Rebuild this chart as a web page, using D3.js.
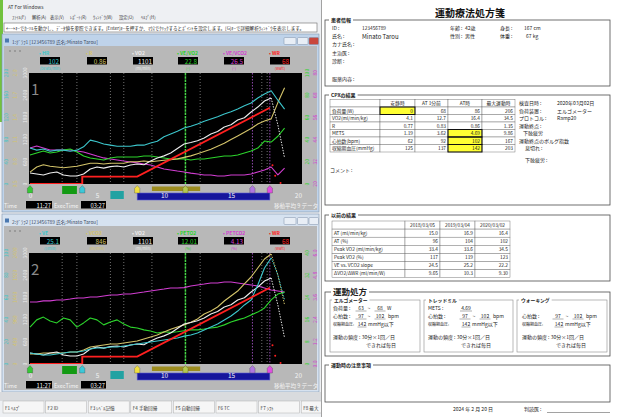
<!DOCTYPE html>
<html>
<head>
<meta charset="utf-8">
<script src="https://cdn.jsdelivr.net/npm/d3@7"></script>
<style>
  html,body{margin:0;padding:0;background:#ffffff;}
  svg{display:block;}
  text{font-family:"Noto Sans CJK JP","Noto Sans",sans-serif;}
</style>
</head>
<body>
<svg id="sheet" width="620" height="417"></svg>
<script>
// ---- exercise test data (minutes from start of recording) ----
const minutes = [0,0.5,1,1.5,2,2.5,3,3.5,4,4.5,5,5.5,6,6.5,7,7.5,8,8.5,9,9.5,10,10.5,11,11.5,12,12.5,13,13.5,14,14.5,15,15.5,16,16.5,17,17.5,18,18.5,19];

// graph 1
const heartRate = [65,61,63,59,61,61,59,61,67, 79,76,72,70,68,68,68,70,70, 74,77,85,90,95,101,104,108,113, 117,121,126,130,135,141,146,155,162, 168,151,135];
const oxygenUptake = [297,270,243,297,324,243,216,216,270, 405,460,430,470,487,460,514,541,520, 622,703,760,838,960,1080,1120,1170,1243, 1351,1420,1541,1600,1730,1790,1946,2080,2243, 2324,1595,703];
const gasExchangeRatio = [0.66,0.73,0.76,0.74,0.73,0.72,0.73,0.74,0.76, 0.78,0.78,0.77,0.78,0.78,0.78,0.80,0.80,0.81, 0.80,0.81,0.82,0.83,0.84,0.86,0.88,0.91,0.94, 0.97,1.01,1.05,1.10,1.15,1.20,1.25,1.31,1.35, 1.38,1.60,1.80];
const veVo2 = [26.1,27.9,29.7,27.9,28.8,30.6,31.5,28.8,25.2, 23.4,22.5,21.6,23.4,24.3,24.3,24.3,24.3,25.2, 25.2,24.3,23.4,22.5,22.5,22.8,21.6,22.5,22.5, 23.4,24.3,25.2,25.2,26.1,27.9,29.7,32.4,38.7, 37.8,43.0,50.4];
const veVco2 = [39.5,40.5,39.5,38.4,38.4,38.4,38.4,37.8,37.3, 36.2,35.1,34.1,33.5,33.0,32.4,31.9,31.4,30.8, 30.3,29.2,28.1,27.6,27.0,26.5,25.9,25.4,24.9, 24.9,24.3,24.3,24.9,24.9,24.9,25.4,26.5,27.6, 29.2,24.9,28.6];

// graph 2
const ventilation = [9.9,9.0,8.1,8.1,9.0,9.9,10.8,10.8,11.7, 13.5,14.4,14.4,15.3,15.3,16.2,17.1,18.0,18.9, 19.8,20.7,21.6,22.5,23.4,25.1,26.1,27.9,30.6, 33.3,36.0,39.6,43.2,47.7,53.2,57.7,71.2,86.5, 95.5,80.2,57.7];
const co2Output = [216,216,238,238,238,238,259,259,303, 368,389,411,432,432,454,476,497,541, 584,627,692,750,800,846,905,975,1081, 1146,1232,1362,1470,1578,1730,1881,2076,2270, 2378,1924,1276];
const endTidalO2 = [13.3,15.9,16.9,15.5,14.8,16.6,15.9,13.3,14.8, 16.6,15.9,14.1,15.1,15.9,14.4,13.3,13.0,12.3, 11.9,11.2,11.6,11.4,11.6,12.0,12.3,12.3,12.6, 13.0,13.3,14.1,15.1,15.9,16.6,17.7,18.7,20.2, 23.1,25.2,25.9];
const endTidalCo2 = [3.35,3.35,3.41,3.41,3.46,3.46,3.51,3.57,3.57, 3.62,3.62,3.68,3.73,3.73,3.78,3.78,3.84,3.89, 3.95,4.00,4.05,4.11,4.11,4.13,4.22,4.27,4.32, 4.38,4.38,4.43,4.43,4.38,4.32,4.27,4.22,4.11, 4.00,3.95,3.89];

// work rate protocol (rest, warm-up, ramp) and recovery samples
const wrMinutes = [0, 3.9, 3.9, 8.0, 17.9];
const wrWatts = [0, 0, 20, 20, 206];
const wrRecoveryMinutes = [18.1, 18.3, 18.7];
const wrRecoveryWatts = [51, 22, 3];

// events
const guideMinutes = [2.4, 3.5, 6.0, 7.0, 9.1, 12.7, 17.3, 17.7];
const stageMinutes = [16.6, 17.9];
const atMinute = 11.6;
const restWindow = [2.4, 3.5];
const warmupWindow = [6.0, 7.0];
const atWindow = [9.1, 12.7];
const rampWindow = [8.0, 17.9];
const eventMinutes = [0, 3.9, 8.0, 11.6, 16.6, 17.9];
const eventColors = ['#35c835', '#3cc8d8', '#f0e040', '#b4c850', '#b078e0', '#e050e0'];

// tick labels
const timeTicks = [0, 5, 10, 15, 20];
const hrTicks = [0, 40, 80, 120, 160, 200];
const rTicks = [0.5, 0.8, 1.1, 1.4, 1.7, 2.0];
const vo2Ticks = [0, 600, 1200, 1800, 2400, 3000];
const veVo2Ticks = [0, 20, 40, 60, 80, 100];
const veVco2Ticks = [20, 32, 44, 56, 68, 80];
const veTicks = [0, 20, 40, 60, 80, 100];
const vco2Ticks = [0, 480, 960, 1440, 1920, 2400];
const peto2Ticks = [0, 8, 16, 24, 32, 40];
const petco2Ticks = [0, 1.2, 2.4, 3.6, 4.8, 6.0];

// ---- report tables ----
const cpxColumns = ['', '安静時', 'AT 1分前', 'AT時', '最大運動時'];
const cpxItems = ['負荷量(W)', 'VO2(ml/min/kg)', 'R', 'METS', '心拍数(bpm)', '収縮期血圧(mmHg)'];
const cpxRest = ['0', '4.1', '0.77', '1.19', '62', '125'];
const cpxAtMinus1 = ['68', '12.7', '0.83', '3.62', '92', '137'];
const cpxAt = ['86', '16.4', '0.86', '4.69', '102', '142'];
const cpxPeak = ['206', '34.5', '1.35', '9.86', '167', '203'];
const cpxMarked = ['1,1', '4,3', '5,3', '6,3'];

const prevColumns = ['', '2018/03/05', '2019/03/04', '2020/03/02'];
const prevItems = ['AT (ml/min/kg)', 'AT (%)', 'Peak VO2 (ml/min/kg)', 'Peak VO2 (%)', 'VE vs. VCO2 slope', 'ΔVO2/ΔWR (ml/min/W)'];
const prev2018 = ['15.0', '96', '33.4', '117', '24.5', '9.65'];
const prev2019 = ['16.9', '104', '33.6', '119', '25.2', '10.3'];
const prev2020 = ['16.4', '102', '34.5', '123', '22.2', '9.30'];

const C = {cyan:'#3cc6cc', yellow:'#d4c46a', white:'#ededed', green:'#2cd42c', magenta:'#d23ed2', red:'#ff2020'};

const svg = d3.select('#sheet');
const defs = svg.append('defs');
defs.append('clipPath').attr('id', 'leftClip').append('rect').attr('width', 321).attr('height', 417);
defs.append('clipPath').attr('id', 'plotClip').append('rect').attr('x', 29).attr('y', 73).attr('width', 273).attr('height', 111);

const left = svg.append('g').attr('clip-path', 'url(#leftClip)');
left.append('rect').attr('width', 321).attr('height', 417).attr('fill', '#eef0f3');
left.append('rect').attr('x', 0).attr('y', 0).attr('width', 3).attr('height', 122).attr('fill', '#72c23e');

// application title, menu and hint line
left.append('text').attr('x', 8).attr('y', 9).attr('font-size', 4.8).attr('fill', '#333').text('AT For Windows');
const menuItems = ['ﾌｧｲﾙ(F)', '解析(A)', '表示(V)', 'ﾚﾎﾟｰﾄ(R)', 'ｳｨﾝﾄﾞｳ(W)', '設定(O)', 'ﾍﾙﾌﾟ(H)'];
const menuX = [12, 32, 50, 70, 93, 119, 141];
left.selectAll('.menu').data(menuItems).join('text')
  .attr('x', (d, i) => menuX[i]).attr('y', 19).attr('font-size', 4.3).attr('fill', '#333').text(d => d);
left.append('rect').attr('x', 4).attr('y', 23).attr('width', 313).attr('height', 9).attr('fill', '#fff').attr('stroke', '#6a6a6a').attr('stroke-width', 0.6);
left.append('text').attr('x', 6).attr('y', 30).attr('font-size', 4.4).attr('fill', '#222')
  .attr('textLength', 298).attr('lengthAdjust', 'spacingAndGlyphs')
  .text('←→ｷｰでｶｰｿﾙを動かし、ﾃﾞｰﾀ値を参照できます。[Enter]ｷｰを押すか、ﾏｳｽでｸﾘｯｸするとﾎﾟｲﾝﾄを設定します。[G]ｷｰで詳細解析ｳｨﾝﾄﾞｳを表示します。');

const x = d3.scaleLinear().domain([0, 20.3]).range([30, 302]);

const panels = [
  {
    dy: 0, num: '1', active: true, title: '1:ｸﾞﾗﾌ1 [123456789 氏名:Minato Tarou]',
    series: [
      {key: 'vevco2', values: veVco2, domain: [20, 80], color: C.magenta},
      {key: 'vevo2', values: veVo2, domain: [0, 100], color: C.green},
      {key: 'r', values: gasExchangeRatio, domain: [0.5, 2.0], color: C.yellow},
      {key: 'vo2', values: oxygenUptake, domain: [0, 3000], color: C.white, dotTail: true},
      {key: 'hr', values: heartRate, domain: [0, 200], color: C.cyan}
    ],
    leftAxes: [['hr', hrTicks, 6, d3.format('d')], ['r', rTicks, 15.5, d3.format('.1f')], ['vo2', vo2Ticks, 25, d3.format('d')]],
    rightAxes: [['vevo2', veVo2Ticks, 307, d3.format('d')], ['vevco2', veVco2Ticks, 315.5, d3.format('d')]],
    readouts: [
      {label: 'HR', color: C.cyan, value: '102', unit: '(beats/min)'},
      {label: 'R', color: C.yellow, value: '0.86', unit: ''},
      {label: 'VO2', color: C.white, value: '1101', unit: '(ml/min)'},
      {label: 'VE/VO2', color: C.green, value: '22.8', unit: '(-)'},
      {label: 'VE/VCO2', color: C.magenta, value: '26.5', unit: '(-)'},
      {label: 'WR', color: C.red, value: '68', unit: '(watt)'}
    ]
  },
  {
    dy: 180, num: '2', active: false, title: '2:ｸﾞﾗﾌ2 [123456789 氏名:Minato Tarou]',
    series: [
      {key: 'petco2', values: endTidalCo2, domain: [0, 6], color: C.magenta},
      {key: 'peto2', values: endTidalO2, domain: [0, 40], color: C.green},
      {key: 'vco2', values: co2Output, domain: [0, 2400], color: C.yellow, dotTail: true},
      {key: 'vo2', values: oxygenUptake, domain: [0, 3000], color: C.white, dotTail: true},
      {key: 've', values: ventilation, domain: [0, 100], color: C.cyan, dotTail: true}
    ],
    leftAxes: [['ve', veTicks, 6, d3.format('d')], ['vco2', vco2Ticks, 15.5, d3.format('d')], ['vo2', vo2Ticks, 25, d3.format('d')]],
    rightAxes: [['peto2', peto2Ticks, 307, d3.format('d')], ['petco2', petco2Ticks, 315.5, d3.format('.1f')]],
    readouts: [
      {label: 'VE', color: C.cyan, value: '25.1', unit: '(l/min)'},
      {label: 'VCO2', color: C.yellow, value: '846', unit: '(ml/min)'},
      {label: 'VO2', color: C.white, value: '1101', unit: '(ml/min)'},
      {label: 'PETO2', color: C.green, value: '12.01', unit: '(%)'},
      {label: 'PETCO2', color: C.magenta, value: '4.13', unit: '(%)'},
      {label: 'WR', color: C.red, value: '68', unit: '(watt)'}
    ]
  }
];

function drawPanel(p) {
  const g = left.append('g').attr('transform', `translate(0,${p.dy})`);
  // window frame and caption
  g.append('rect').attr('x', 2).attr('y', 34).attr('width', 317).attr('height', 178)
    .attr('fill', p.active ? '#bfd3ea' : '#d6e2f0').attr('stroke', '#8196b0').attr('stroke-width', 0.6);
  g.append('rect').attr('x', 5).attr('y', 38.5).attr('width', 4).attr('height', 4).attr('fill', '#4a78b0');
  g.append('text').attr('x', 12).attr('y', 43.5).attr('font-size', 4.8).attr('fill', '#3b4b66').text(p.title);
  const caption = [[284, 12, '#e8eef6'], [297.5, 10.5, '#e8eef6'], [309, 9.5, p.active ? '#c9473d' : '#e8eef6']];
  g.selectAll('.cap').data(caption).join('rect')
    .attr('x', d => d[0]).attr('y', 37.5).attr('width', d => d[1]).attr('height', 7)
    .attr('rx', 1).attr('fill', d => d[2]).attr('stroke', '#7d8ea6').attr('stroke-width', 0.5);

  // window body
  g.append('rect').attr('x', 4).attr('y', 46).attr('width', 313).attr('height', 164).attr('fill', '#b8b8b8');
  g.selectAll('.dot').data([10, 15, 20]).join('circle')
    .attr('cx', d => d).attr('cy', 51).attr('r', 0.7).attr('fill', '#666');

  // live readouts
  const boxX = [40, 87, 133, 178, 224, 270];
  const ro = g.selectAll('.readout').data(p.readouts).join('g').attr('transform', (d, i) => `translate(${boxX[i]},0)`);
  ro.append('text').attr('x', -1).attr('y', 54.5).attr('font-size', 5).attr('font-weight', 700).attr('fill', d => d.color).text(d => '• ' + d.label);
  ro.append('rect').attr('x', 0).attr('y', 57).attr('width', 20).attr('height', 7.5).attr('fill', '#000');
  ro.append('text').attr('x', 19).attr('y', 63.5).attr('text-anchor', 'end').attr('font-size', 6.3)
    .attr('font-family', '"DejaVu Sans Mono",monospace').attr('fill', d => d.color).text(d => d.value);
  ro.append('text').attr('x', 10).attr('y', 70).attr('text-anchor', 'middle').attr('font-size', 3.8).attr('fill', d => d.color).text(d => d.unit);

  // plot area
  g.append('rect').attr('x', 29).attr('y', 73).attr('width', 273).attr('height', 111).attr('fill', '#000');
  g.append('text').attr('x', 31).attr('y', 95).attr('font-size', 15).attr('fill', '#8a8a8a').text(p.num);
  const plot = g.append('g').attr('clip-path', 'url(#plotClip)');

  plot.selectAll('.guide').data(guideMinutes).join('line')
    .attr('x1', d => x(d)).attr('x2', d => x(d)).attr('y1', 73).attr('y2', 184)
    .attr('stroke', '#a0a0a0').attr('stroke-width', 0.7).attr('stroke-dasharray', '1,2');
  plot.selectAll('.stage').data(stageMinutes).join('line')
    .attr('x1', d => x(d)).attr('x2', d => x(d)).attr('y1', 73).attr('y2', 184)
    .attr('stroke', '#b45ad8').attr('stroke-width', 0.8).attr('stroke-dasharray', '1.5,1.5');
  plot.append('line').attr('x1', x(atMinute)).attr('x2', x(atMinute)).attr('y1', 73).attr('y2', 184)
    .attr('stroke', '#46d646').attr('stroke-width', 1.5).attr('stroke-dasharray', '2.5,0.8');

  const scales = {};
  p.series.forEach(s => {
    const y = d3.scaleLinear().domain(s.domain).range([184, 73]);
    scales[s.key] = y;
    const pts = minutes.map((t, i) => [t, s.values[i]]);
    const line = d3.line().x(d => x(d[0])).y(d => y(d[1]));
    const solid = s.dotTail ? pts.filter(d => d[0] <= 18) : pts;
    plot.append('path').attr('d', line(solid)).attr('fill', 'none')
      .attr('stroke', s.color).attr('stroke-width', 1.1).attr('stroke-linejoin', 'round');
    if (s.dotTail) {
      plot.append('path').attr('d', line(pts.filter(d => d[0] >= 18))).attr('fill', 'none')
        .attr('stroke', s.color).attr('stroke-width', 1).attr('stroke-dasharray', '1.4,1.4');
    }
  });

  // work rate
  const wr = d3.scaleLinear().domain([0, 300]).range([184, 73]);
  const wrLine = d3.line().x(d => x(d[0])).y(d => wr(d[1]));
  plot.append('path').attr('d', wrLine(wrMinutes.map((t, i) => [t, wrWatts[i]])))
    .attr('fill', 'none').attr('stroke', C.red).attr('stroke-width', 1.9);
  plot.selectAll('.rec').data(wrRecoveryMinutes).join('circle')
    .attr('cx', d => x(d)).attr('cy', (d, i) => wr(wrRecoveryWatts[i])).attr('r', 1).attr('fill', C.red);

  // scale labels beside the plot
  const axisColumn = (key, ticks, cx, fmt) => {
    const y = scales[key];
    const color = p.series.find(s => s.key === key).color;
    g.selectAll(null).data(ticks).join('text')
      .attr('transform', d => `translate(${cx},${y(d)}) rotate(-90)`)
      .attr('text-anchor', 'middle').attr('dy', '0.35em').attr('font-size', 5)
      .attr('fill', color).text(d => fmt(d));
  };
  p.leftAxes.forEach(a => axisColumn(...a));
  p.rightAxes.forEach(a => axisColumn(...a));

  // phase bars and event markers
  const bar = (w, y, h, fill, stroke) => g.append('rect')
    .attr('x', x(w[0])).attr('y', y).attr('width', x(w[1]) - x(w[0])).attr('height', h)
    .attr('fill', fill).attr('stroke', stroke || 'none').attr('stroke-width', 0.6);
  bar(restWindow, 186, 8, '#139a13');
  bar(warmupWindow, 191, 8, '#22a2a2');
  bar(atWindow, 186.5, 4.5, '#9c8c1e');
  bar(rampWindow, 193, 7, '#16169c', '#5a5ad2');
  g.selectAll('.evt').data(eventMinutes).join('path')
    .attr('transform', d => `translate(${x(d)},189.5)`)
    .attr('d', 'M-2.6,3.5 L-2.6,-1.2 L0,-4 L2.6,-1.2 L2.6,3.5 Z')
    .attr('fill', (d, i) => eventColors[i]).attr('stroke', '#333').attr('stroke-width', 0.3);

  const ax = g.append('g').attr('transform', 'translate(0,193.5)')
    .call(d3.axisBottom(x).tickValues(timeTicks).tickSize(0).tickPadding(0));
  ax.select('.domain').remove();
  ax.selectAll('text').attr('font-size', 6.5).attr('font-family', '"DejaVu Sans",sans-serif').attr('fill', '#f2f2f2');

  // time readouts
  g.append('text').attr('x', 4).attr('y', 207.5).attr('font-size', 5.5).attr('fill', '#f4f4f4').text('Time');
  g.append('rect').attr('x', 26).attr('y', 201).attr('width', 26).attr('height', 7.5).attr('fill', '#000');
  g.append('text').attr('x', 51).attr('y', 207.5).attr('text-anchor', 'end').attr('font-size', 5.8)
    .attr('font-family', '"DejaVu Sans Mono",monospace').attr('fill', '#f4f4f4').text('11:27');
  g.append('text').attr('x', 54).attr('y', 207.5).attr('font-size', 5.5).attr('fill', '#f4f4f4').text('ExecTime');
  g.append('rect').attr('x', 81).attr('y', 201).attr('width', 25).attr('height', 7.5).attr('fill', '#000');
  g.append('text').attr('x', 105).attr('y', 207.5).attr('text-anchor', 'end').attr('font-size', 5.8)
    .attr('font-family', '"DejaVu Sans Mono",monospace').attr('fill', '#f4f4f4').text('03:27');
  g.append('text').attr('x', 318).attr('y', 207.5).attr('text-anchor', 'end').attr('font-size', 5.5).attr('fill', '#f4f4f4').text('移動平均 9 データ');
}
panels.forEach(drawPanel);

// function key bar
left.append('rect').attr('x', 0).attr('y', 392).attr('width', 321).attr('height', 9).attr('fill', '#d9dbde');
const fKeys = ['F1 ﾍﾙﾌﾟ', 'F2 ID', 'F3 ﾚﾍﾞﾙ記憶', 'F4 手動回帰', 'F5 自動回帰', 'F6 TC', 'F7 ｼﾌﾄ', 'F8 最大'];
const fk = left.selectAll('.fkey').data(fKeys).join('g').attr('transform', (d, i) => `translate(${3 + i * 42.6},401)`);
fk.append('rect').attr('width', 41).attr('height', 12).attr('fill', '#f6f6f6').attr('stroke', '#b0b0b0').attr('stroke-width', 0.5);
fk.append('text').attr('x', 2).attr('y', 8.5).attr('font-size', 4.6).attr('fill', '#333').text(d => d);

// ---- report sheet ----
const rep = svg.append('g');
const FS = 5;
rep.append('rect').attr('x', 321).attr('y', 0).attr('width', 299).attr('height', 417).attr('fill', '#fff');
rep.append('line').attr('x1', 321.5).attr('x2', 321.5).attr('y1', 0).attr('y2', 417).attr('stroke', '#8a8a8a').attr('stroke-width', 0.8);
rep.append('text').attr('x', 470).attr('y', 17).attr('text-anchor', 'middle').attr('font-size', 10)
  .attr('font-weight', 700).attr('fill', '#111').text('運動療法処方箋');

function txt(g, xx, yy, s, opt = {}) {
  return g.append('text').attr('x', xx).attr('y', yy).attr('font-size', opt.fs || FS)
    .attr('text-anchor', opt.anchor || 'start').attr('font-weight', opt.bold ? 700 : 400)
    .attr('font-family', opt.font || null).attr('fill', opt.fill || '#222').text(s);
}
function groupBox(g, bx, by, bw, bh, label, opt = {}) {
  g.append('rect').attr('x', bx).attr('y', by).attr('width', bw).attr('height', bh)
    .attr('fill', 'none').attr('stroke', opt.stroke || '#4d4d4d').attr('stroke-width', opt.sw || 0.8);
  const fs = opt.fs || 5;
  const t = txt(g, bx + (opt.pad || 6), by + fs * 0.36, label, {fs: fs, bold: true, fill: '#222'});
  const w = t.node().getComputedTextLength();
  g.insert('rect', () => t.node()).attr('x', bx + (opt.pad || 6) - 2).attr('y', by - fs * 0.6)
    .attr('width', w + 4).attr('height', fs * 1.2).attr('fill', '#fff');
}
function grid(g, edges, top, rowH, rows, marked) {
  const cells = rows.flatMap((r, i) => r.map((v, j) => ({i, j, v})));
  g.selectAll(null).data(cells).join('rect')
    .attr('x', d => edges[d.j]).attr('y', d => top + d.i * rowH)
    .attr('width', d => edges[d.j + 1] - edges[d.j]).attr('height', rowH)
    .attr('fill', d => marked.includes(d.i + ',' + d.j) ? '#ffff33' : '#fff')
    .attr('stroke', '#6a6a6a').attr('stroke-width', 0.45);
  g.selectAll(null).data(cells.filter(d => marked.includes(d.i + ',' + d.j))).join('rect')
    .attr('x', d => edges[d.j]).attr('y', d => top + d.i * rowH)
    .attr('width', d => edges[d.j + 1] - edges[d.j]).attr('height', rowH)
    .attr('fill', 'none').attr('stroke', '#111').attr('stroke-width', 1);
  g.selectAll(null).data(cells).join('text')
    .attr('x', d => d.i === 0 ? (edges[d.j] + edges[d.j + 1]) / 2 : (d.j === 0 ? edges[0] + 2 : edges[d.j + 1] - 2))
    .attr('y', d => top + d.i * rowH + rowH / 2 + 1.8)
    .attr('text-anchor', d => d.i === 0 ? 'middle' : (d.j === 0 ? 'start' : 'end'))
    .attr('font-size', 4.8).attr('fill', '#222').text(d => d.v);
}

// patient information
groupBox(rep, 325, 20, 285, 66, '患者情報');
txt(rep, 332, 30, 'ID :'); txt(rep, 362, 30, '123456789', {fs: 4.8});
txt(rep, 450, 30, '年齢 :'); txt(rep, 465, 30, '42歳');
txt(rep, 500, 30, '身長 :'); txt(rep, 524, 30, '167 cm');
txt(rep, 332, 38, '氏名 :'); txt(rep, 362, 38.5, 'Minato Tarou', {fs: 6, font: '"DejaVu Sans Mono",monospace'});
txt(rep, 450, 38, '性別 :'); txt(rep, 465, 38, '男性');
txt(rep, 500, 38, '体重 :'); txt(rep, 526, 38, '67 kg');
txt(rep, 332, 46, 'カナ氏名 :');
txt(rep, 332, 54.5, '主治医 :');
txt(rep, 332, 63, '診断 :');
txt(rep, 332, 81, '服薬内容 :');

// CPX results
groupBox(rep, 325, 95, 285, 110, 'CPXの結果');
const cpxRows = [cpxColumns].concat(cpxItems.map((d, i) => [d, cpxRest[i], cpxAtMinus1[i], cpxAt[i], cpxPeak[i]]));
grid(rep, [330, 380, 415, 448, 482, 515], 99.5, 7.5, cpxRows, cpxMarked);
const infoRows = [
  ['検査日時 :', '2020年03月02日', 519], ['負荷装置 :', 'エルゴメーター', 519], ['プロトコル :', 'Ramp20', 519],
  ['運動終点 :', '', 519], ['下肢疲労', '', 523], ['運動終点のボルグ指数', '', 519], ['息切れ :', '', 525]
];
infoRows.forEach((r, i) => {
  txt(rep, r[2], 105 + i * 7.5, r[0]);
  if (r[1]) txt(rep, 557, 105 + i * 7.5, r[1]);
});
txt(rep, 525, 162, '下肢疲労 :');
txt(rep, 330, 172, 'コメント :');

// previous results
groupBox(rep, 325, 215, 285, 66, '以前の結果');
const prevRows = [prevColumns].concat(prevItems.map((d, i) => [d, prev2018[i], prev2019[i], prev2020[i]]));
grid(rep, [332, 405, 440, 475, 510], 221, 8.1, prevRows, []);

// exercise prescription
groupBox(rep, 325, 292, 285, 64, '運動処方', {fs: 8.5, pad: 8});
groupBox(rep, 330, 300, 90, 52, 'エルゴメーター', {stroke: '#8a8a8a', sw: 0.6, fs: 4.8, pad: 4});
groupBox(rep, 424, 300, 89, 52, 'トレッドミル', {stroke: '#8a8a8a', sw: 0.6, fs: 4.8, pad: 4});
groupBox(rep, 517, 300, 90, 52, 'ウォーキング', {stroke: '#8a8a8a', sw: 0.6, fs: 4.8, pad: 4});

function uval(cx, yy, s, w) {
  txt(rep, cx, yy, s, {anchor: 'middle'});
  rep.append('line').attr('x1', cx - w / 2).attr('x2', cx + w / 2).attr('y1', yy + 1).attr('y2', yy + 1)
    .attr('stroke', '#333').attr('stroke-width', 0.4);
}
const rowY = [310, 318, 326, 339, 347];
// ergometer
txt(rep, 333, rowY[0], '負荷量 :'); uval(361, rowY[0], '63', 11); txt(rep, 369, rowY[0], '~', {anchor: 'middle'}); uval(380, rowY[0], '68', 11); txt(rep, 387, rowY[0], 'W');
txt(rep, 333, rowY[1], '心拍数 :'); uval(361, rowY[1], '97', 11); txt(rep, 369, rowY[1], '~', {anchor: 'middle'}); uval(380, rowY[1], '102', 11); txt(rep, 388, rowY[1], 'bpm');
txt(rep, 333, rowY[2], '収縮期血圧:', {fs: 4}); uval(362, rowY[2], '142', 9); txt(rep, 368, rowY[2], 'mmHg以下');
txt(rep, 333, rowY[3], '運動の頻度 : 30分×1回／日'); txt(rep, 366, rowY[4], 'できれば毎日');
// treadmill
txt(rep, 428, rowY[0], 'METS :'); uval(466, rowY[0], '4.69', 12);
txt(rep, 428, rowY[1], '心拍数 :'); uval(465, rowY[1], '97', 11); txt(rep, 474, rowY[1], '~', {anchor: 'middle'}); uval(485, rowY[1], '102', 11); txt(rep, 493, rowY[1], 'bpm');
txt(rep, 428, rowY[2], '収縮期血圧:', {fs: 4}); uval(466, rowY[2], '142', 9); txt(rep, 472, rowY[2], 'mmHg以下');
txt(rep, 428, rowY[3], '運動の頻度 : 30分×1回／日'); txt(rep, 461, rowY[4], 'できれば毎日');
// walking
txt(rep, 522, rowY[1], '心拍数 :'); uval(558, rowY[1], '97', 11); txt(rep, 567, rowY[1], '~', {anchor: 'middle'}); uval(578, rowY[1], '102', 11); txt(rep, 586, rowY[1], 'bpm');
txt(rep, 522, rowY[2], '収縮期血圧:', {fs: 4}); uval(559, rowY[2], '142', 9); txt(rep, 565, rowY[2], 'mmHg以下');
txt(rep, 522, rowY[3], '運動の頻度 : 30分×1回／日'); txt(rep, 556, rowY[4], 'できれば毎日');

// precautions and signature
groupBox(rep, 325, 365, 285, 37, '運動時の注意事項');
txt(rep, 453, 411, '2024  年    2  月    20  日');
txt(rep, 524, 411, '判読医 :');
rep.append('line').attr('x1', 547).attr('x2', 610).attr('y1', 412.5).attr('y2', 412.5).attr('stroke', '#444').attr('stroke-width', 0.5);
</script>
</body>
</html>
